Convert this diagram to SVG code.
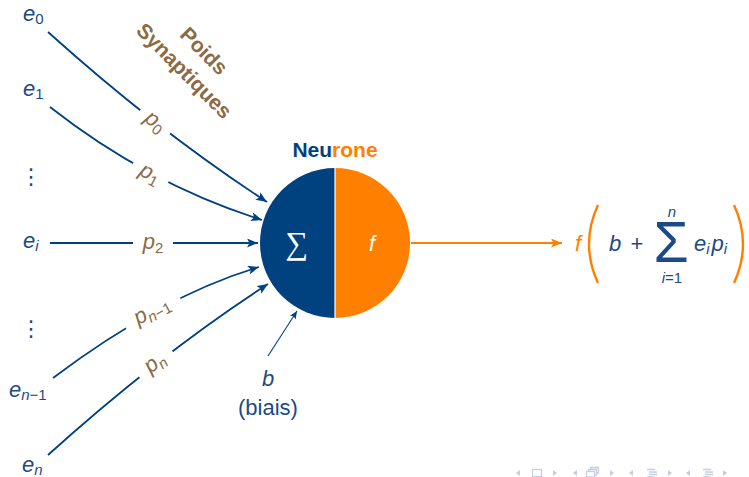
<svg xmlns="http://www.w3.org/2000/svg" width="749" height="477" viewBox="0 0 749 477">
<style>
.m{font-family:"Liberation Sans","DejaVu Sans",sans-serif;font-style:italic;font-size:22px}
.u{font-family:"Liberation Sans","DejaVu Sans",sans-serif;font-size:22px}
.blue{fill:#1c4a86}
.br{fill:#8b6a45}
.or{fill:#ff8000}
.sub{font-size:15px}
.conn{fill:none;stroke:#00427f;stroke-width:1.8}
.bg{fill:#fff}
.nav{fill:#c5cde0}
.navs{fill:none;stroke:#c5cde0;stroke-width:1.3}
</style>
<defs>
<marker id="ah" markerWidth="12" markerHeight="9" refX="11" refY="4.5" orient="auto" markerUnits="userSpaceOnUse">
<path d="M0,0 L11,4.5 L0,9 L2.5,4.5 z" fill="#00427f"/>
</marker>
<marker id="ahs" markerWidth="9" markerHeight="7" refX="8" refY="3.5" orient="auto" markerUnits="userSpaceOnUse">
<path d="M0,0 L8,3.5 L0,7 L1.8,3.5 z" fill="#00427f"/>
</marker>
<marker id="aho" markerWidth="12" markerHeight="9" refX="11" refY="4.5" orient="auto" markerUnits="userSpaceOnUse">
<path d="M0,0 L11,4.5 L0,9 L2.5,4.5 z" fill="#ff8000"/>
</marker>
</defs>

<g id="connectors">
<path class="conn" d="M48,32 Q158,131 267,202" marker-end="url(#ah)"/>
<path class="conn" d="M50,107 Q148,184 262,220" marker-end="url(#ah)"/>
<path class="conn" d="M50,243 L258,243" marker-end="url(#ah)"/>
<path class="conn" d="M53,378 Q162,296 259,267" marker-end="url(#ah)"/>
<path class="conn" d="M48,455 Q160,354 268,284" marker-end="url(#ah)"/>
<path d="M268,356 L297,311" fill="none" stroke="#00427f" stroke-width="1.1" marker-end="url(#ahs)"/>
<path d="M411,243 L562,243" fill="none" stroke="#ff8000" stroke-width="1.8" marker-end="url(#aho)"/>
</g>

<g id="weights">
<g id="p0" transform="translate(155,122) rotate(37.8)"><rect class="bg" x="-19" y="-10" width="38" height="20"/><text class="m br" y="6" text-anchor="middle">p<tspan class="sub" font-style="normal" dy="4">0</tspan></text></g>
<g id="p1" transform="translate(150,174) rotate(28)"><rect class="bg" x="-20" y="-10" width="40" height="20"/><text class="m br" y="6" text-anchor="middle">p<tspan class="sub" font-style="normal" dy="4">1</tspan></text></g>
<g id="p2" transform="translate(153,243)"><rect class="bg" x="-20" y="-10" width="40" height="20"/><text class="m br" y="6" text-anchor="middle">p<tspan class="sub" font-style="normal" dy="4">2</tspan></text></g>
<g id="pn1" transform="translate(152,311) rotate(-28.3)"><rect class="bg" x="-31" y="-11" width="62" height="22"/><text class="m br" y="6" text-anchor="middle">p<tspan class="sub" dy="4">n</tspan><tspan class="sub" font-style="normal">−1</tspan></text></g>
<g id="pn" transform="translate(155,363) rotate(-37.9)"><rect class="bg" x="-21" y="-10" width="42" height="20"/><text class="m br" y="6" text-anchor="middle">p<tspan class="sub" dy="4">n</tspan></text></g>
</g>

<g id="poids-synaptiques" transform="translate(194,61) rotate(45)">
<text class="br" x="0" y="-7" text-anchor="middle" font-family="Liberation Sans, sans-serif" font-weight="bold" font-size="21">Poids</text>
<text class="br" x="0" y="21" text-anchor="middle" font-family="Liberation Sans, sans-serif" font-weight="bold" font-size="21">Synaptiques</text>
</g>

<g id="inputs">
<text id="e0" class="m blue" x="23" y="21">e<tspan class="sub" font-style="normal" dy="3">0</tspan></text>
<text id="e1" class="m blue" x="23" y="96">e<tspan class="sub" font-style="normal" dy="3">1</tspan></text>
<text id="dots1" class="u blue" x="31" y="184" text-anchor="middle">⋮</text>
<text id="ei" class="m blue" x="23" y="248">e<tspan class="sub" dy="3">i</tspan></text>
<text id="dots2" class="u blue" x="31" y="336" text-anchor="middle">⋮</text>
<text id="en1" class="m blue" x="9" y="397">e<tspan class="sub" dy="3">n</tspan><tspan class="sub" font-style="normal">−1</tspan></text>
<text id="en" class="m blue" x="22" y="472">e<tspan class="sub" dy="3">n</tspan></text>
</g>

<g id="neurone">
<path d="M335,168 A75,75 0 0 0 335,318 Z" fill="#00427f"/>
<path d="M335,168 A75,75 0 0 1 335,318 Z" fill="#ff8000"/>
<line x1="335" y1="168" x2="335" y2="318" stroke="#fff" stroke-width="1.2"/>
<text x="297" y="254" text-anchor="middle" fill="#fff" font-family="Liberation Serif, DejaVu Serif, serif" font-size="32">∑</text>
<text x="372" y="251" text-anchor="middle" fill="#fff" class="m">f</text>
<text x="335" y="157" text-anchor="middle" font-family="Liberation Sans, sans-serif" font-weight="bold" font-size="21"><tspan fill="#00427f">Neu</tspan><tspan fill="#ff8000">rone</tspan></text>
</g>

<g id="biais">
<text class="m blue" x="268" y="386" text-anchor="middle">b</text>
<text class="u blue" x="268" y="415" text-anchor="middle">(biais)</text>
</g>

<g id="sortie">
<text class="m or" x="578" y="251" text-anchor="middle">f</text>
<path d="M598,205 Q580,244 598,283" fill="none" stroke="#ff8000" stroke-width="2.4"/>
<path d="M734,205 Q752,244 734,283" fill="none" stroke="#ff8000" stroke-width="2.4"/>
<text class="m blue" x="609" y="251">b</text>
<text class="u blue" x="637" y="251" text-anchor="middle">+</text>
<text class="blue" x="671" y="262" text-anchor="middle" font-family="Liberation Sans, sans-serif" font-size="57">Σ</text>
<text class="blue" x="672" y="217" text-anchor="middle" font-family="Liberation Sans, sans-serif" font-style="italic" font-size="15">n</text>
<text class="blue" x="672" y="283" text-anchor="middle" font-family="Liberation Sans, sans-serif" font-size="15"><tspan font-style="italic">i</tspan>=1</text>
<text class="m blue" x="694" y="251">e<tspan class="sub" dy="3">i</tspan><tspan dx="2" dy="-3">p</tspan><tspan class="sub" dy="3">i</tspan></text>
</g>

<g id="navigation">
<path class="nav" d="M520,470 L516,473 L520,476 Z"/>
<rect class="navs" x="532.5" y="469.5" width="9" height="7"/>
<path class="nav" d="M553,470 L557,473 L553,476 Z"/>
<path class="nav" d="M577,470 L573,473 L577,476 Z"/>
<rect class="navs" x="586.5" y="471.5" width="8" height="5.5"/>
<path class="navs" d="M588.5,471.5 V469.5 H596.5 V475 H594.5 M590.5,469.5 V467.5 H598.5 V473 H596.5"/>
<path class="nav" d="M610,470 L614,473 L610,476 Z"/>
<path class="nav" d="M633,470 L629,473 L633,476 Z"/>
<path class="navs" d="M647,469.5 H655 M649,472 H657 M649,474.5 H657 M647,477 H655"/>
<path class="nav" d="M668,470 L672,473 L668,476 Z"/>
<path class="nav" d="M690,470 L686,473 L690,476 Z"/>
<path class="navs" d="M703,469.5 H711 M705,472 H713 M705,474.5 H713 M703,477 H711"/>
<path class="nav" d="M723,470 L727,473 L723,476 Z"/>
</g>
</svg>
